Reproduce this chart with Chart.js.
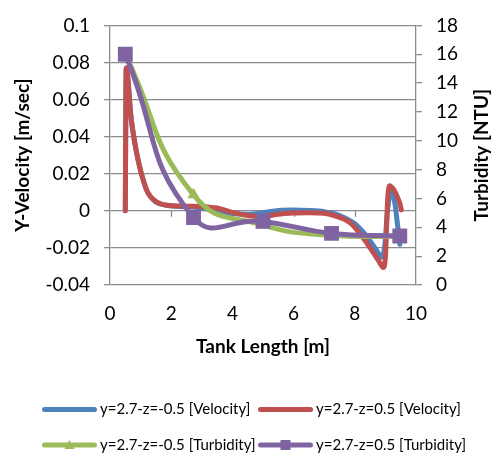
<!DOCTYPE html>
<html>
<head>
<meta charset="utf-8">
<script src="https://cdn.jsdelivr.net/npm/chart.js@4/dist/chart.umd.min.js"></script>
<style>
  html, body { margin: 0; padding: 0; background: #fff; }
  canvas { display: block; }
</style>
</head>
<body>
<canvas id="chart" width="499" height="453"></canvas>
<script>
// velocity, y=2.7 z=-0.5
const velLowX = [0.5, 0.53, 0.69, 0.85, 1.01, 1.23, 1.5, 1.85, 2.5, 3.0, 3.5, 4.0, 4.5, 5.0, 5.5, 6.0, 6.5, 7.0, 7.5, 8.0, 8.4, 8.7, 8.88, 8.97, 9.07, 9.18, 9.3, 9.4, 9.47];
const velLowY = [0, 0.077, 0.05, 0.033, 0.021, 0.01, 0.0048, 0.003, 0.0022, 0.0015, 0.0, -0.0015, -0.0018, -0.001, 0.0002, 0.0004, 0.0002, -0.0005, -0.0025, -0.007, -0.014, -0.021, -0.025, -0.02, 0.0, 0.011, 0.005, -0.008, -0.018];

// velocity, y=2.7 z=0.5
const velHighX = [0.5, 0.53, 0.69, 0.85, 1.01, 1.23, 1.5, 1.85, 2.5, 3.0, 3.5, 4.0, 4.5, 5.0, 5.5, 6.0, 6.5, 7.0, 7.4, 7.85, 8.2, 8.5, 8.8, 8.93, 9.0, 9.07, 9.13, 9.47, 9.52];
const velHighY = [0, 0.077, 0.05, 0.033, 0.021, 0.01, 0.005, 0.003, 0.0025, 0.0023, 0.0015, -0.0008, -0.0025, -0.003, -0.0018, -0.0012, -0.001, -0.0013, -0.003, -0.0065, -0.013, -0.02, -0.0275, -0.0305, -0.025, 0.005, 0.0135, 0.004, 0.0005];

// turbidity
const turbX = [0.5, 2.73, 5.0, 7.24, 9.47];
const turbLow = [16, 6.25, 4.15, 3.45, 3.38];
const turbHigh = [16, 4.68, 4.41, 3.58, 3.4];

const xTicks = ['0', '2', '4', '6', '8', '10'];
const yTicks = ['-0.04', '-0.02', '0', '0.02', '0.04', '0.06', '0.08', '0.1'];
const y2Ticks = ['0', '2', '4', '6', '8', '10', '12', '14', '16', '18'];

const seriesNames = [
  'y=2.7-z=-0.5 [Velocity]',
  'y=2.7-z=0.5 [Velocity]',
  'y=2.7-z=-0.5 [Turbidity]',
  'y=2.7-z=0.5 [Turbidity]'
];

const BLUE = '#4F81BD', RED = '#C0504D', GREEN = '#9BBB59', PURPLE = '#8064A2';
const GRID = '#8c8c8c';
const FONT = 'Lato, "Open Sans", sans-serif';

function pts(xs, ys) {
  return xs.map((x, i) => ({ x: x, y: ys[i] }));
}

const lineBase = {
  showLine: true,
  borderWidth: 5,
  borderCapStyle: 'round',
  borderJoinStyle: 'round',
  fill: false
};

// right axis title reads bottom-to-top, plus axis tick marks at y=0 and the legend
const extras = {
  id: 'extras',
  beforeDatasetsDraw(chart) {
    const ctx = chart.ctx;
    const x = chart.scales.x, y = chart.scales.y;
    const y0 = y.getPixelForValue(0);
    ctx.save();
    ctx.strokeStyle = GRID;
    ctx.lineWidth = 1.3;
    [2, 4, 6, 8].forEach(v => {
      const px = Math.round(x.getPixelForValue(v)) + 0.5;
      ctx.beginPath();
      ctx.moveTo(px, y0);
      ctx.lineTo(px, y0 + 6);
      ctx.stroke();
    });
    ctx.restore();
  },
  afterDraw(chart) {
    const ctx = chart.ctx;
    const area = chart.chartArea;
    ctx.save();
    ctx.fillStyle = '#000';
    ctx.font = 'bold 19px ' + FONT;
    ctx.textAlign = 'center';
    ctx.textBaseline = 'middle';
    ctx.translate(482, (area.top + area.bottom) / 2);
    ctx.rotate(-Math.PI / 2);
    ctx.fillText('Turbidity [NTU]', 0, 0);
    ctx.restore();

    const items = [
      { x: 42, y: 409.5, color: BLUE, marker: null },
      { x: 258, y: 409.5, color: RED, marker: null },
      { x: 42, y: 445, color: GREEN, marker: 'triangle' },
      { x: 258, y: 445, color: PURPLE, marker: 'rect' }
    ];
    ctx.save();
    items.forEach((it, i) => {
      ctx.strokeStyle = it.color;
      ctx.fillStyle = it.color;
      ctx.lineWidth = 5;
      ctx.lineCap = 'round';
      ctx.beginPath();
      ctx.moveTo(it.x + 2.5, it.y);
      ctx.lineTo(it.x + 52.5, it.y);
      ctx.stroke();
      const cx = it.x + 27.5;
      if (it.marker === 'triangle') {
        ctx.beginPath();
        ctx.moveTo(cx, it.y - 5);
        ctx.lineTo(cx + 5, it.y + 4);
        ctx.lineTo(cx - 5, it.y + 4);
        ctx.closePath();
        ctx.fill();
      } else if (it.marker === 'rect') {
        ctx.fillRect(cx - 5, it.y - 5, 10, 10);
      }
      ctx.fillStyle = '#000';
      ctx.font = '15px ' + FONT;
      ctx.textAlign = 'left';
      ctx.textBaseline = 'middle';
      ctx.fillText(seriesNames[i], it.x + 58, it.y);
    });
    ctx.restore();
  }
};

new Chart(document.getElementById('chart'), {
  type: 'scatter',
  data: {
    datasets: [
      Object.assign({}, lineBase, {
        label: seriesNames[0],
        data: pts(velLowX, velLowY),
        borderColor: BLUE,
        backgroundColor: BLUE,
        pointRadius: 0,
        cubicInterpolationMode: 'monotone',
        yAxisID: 'y',
        order: 4
      }),
      Object.assign({}, lineBase, {
        label: seriesNames[1],
        data: pts(velHighX, velHighY),
        borderColor: RED,
        backgroundColor: RED,
        pointRadius: 0,
        cubicInterpolationMode: 'monotone',
        yAxisID: 'y',
        order: 3
      }),
      Object.assign({}, lineBase, {
        label: seriesNames[2],
        data: pts(turbX, turbLow),
        borderColor: GREEN,
        backgroundColor: GREEN,
        pointStyle: 'triangle',
        pointRadius: 7,
        pointBorderWidth: 0,
        tension: 0.5,
        yAxisID: 'y2',
        order: 2
      }),
      Object.assign({}, lineBase, {
        label: seriesNames[3],
        data: pts(turbX, turbHigh),
        borderColor: PURPLE,
        backgroundColor: PURPLE,
        pointStyle: 'rect',
        pointRadius: 10.5,
        pointBorderWidth: 0,
        tension: 0.5,
        yAxisID: 'y2',
        order: 1
      })
    ]
  },
  options: {
    responsive: false,
    animation: false,
    devicePixelRatio: 1,
    layout: { padding: { top: 20, bottom: 93, left: 0, right: 0 } },
    plugins: {
      legend: { display: false },
      tooltip: { enabled: false }
    },
    scales: {
      x: {
        type: 'linear',
        min: 0,
        max: 10,
        ticks: {
          stepSize: 2,
          padding: 17,
          color: '#000',
          font: { family: FONT, size: 19 },
          callback: (v, i) => xTicks[i]
        },
        grid: { display: false, drawTicks: false },
        border: { display: false },
        title: {
          display: true,
          text: 'Tank Length [m]',
          color: '#000',
          font: { family: FONT, size: 19, weight: 'bold' },
          padding: { top: 0, bottom: 2 }
        },
        afterFit: s => { s.height = 75; }
      },
      y: {
        position: 'left',
        min: -0.04,
        max: 0.1,
        ticks: {
          stepSize: 0.02,
          padding: 14,
          color: '#000',
          font: { family: FONT, size: 19 },
          callback: (v, i) => yTicks[i]
        },
        grid: { color: GRID, lineWidth: 1.3, tickLength: 6 },
        border: { color: GRID, width: 1.3 },
        title: {
          display: true,
          text: 'Y-Velocity [m/sec]',
          color: '#000',
          font: { family: FONT, size: 19, weight: 'bold' },
          padding: { top: 11, bottom: 0 }
        },
        afterFit: s => { s.width = 110; }
      },
      y2: {
        position: 'right',
        min: 0,
        max: 18,
        ticks: {
          stepSize: 2,
          padding: 14,
          color: '#000',
          font: { family: FONT, size: 19 },
          callback: (v, i) => y2Ticks[i]
        },
        grid: { drawOnChartArea: false, color: GRID, lineWidth: 1.3, tickLength: 6 },
        border: { color: GRID, width: 1.3 },
        afterFit: s => { s.width = 83; }
      }
    }
  },
  plugins: [extras]
});
</script>
</body>
</html>
